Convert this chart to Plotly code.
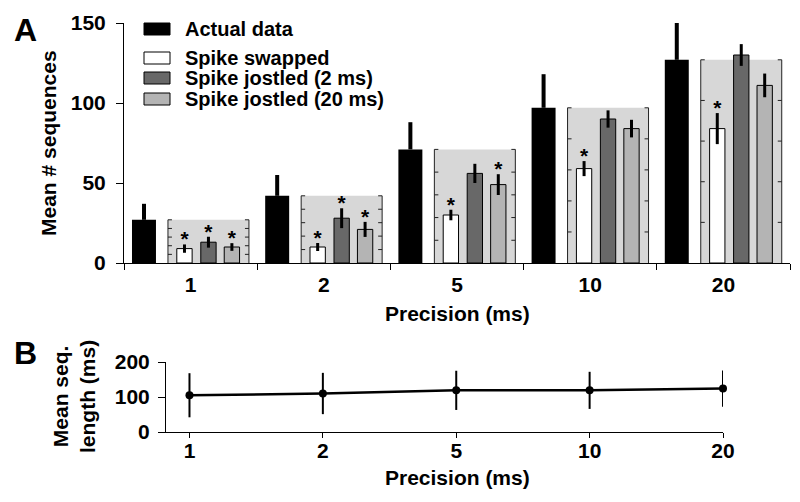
import numpy as np
import plotly.graph_objects as go

# values
precision = ['1', '2', '5', '10', '20']
actual = [27, 42, 71, 97, 127]
actual_err = [10, 13, 17, 21, 25]
swapped = [9, 10, 30, 59, 84]
swapped_err = [2.6, 2.5, 3.3, 4.7, 9.7]
jostled_2 = [13, 28, 56, 90, 130]
jostled_2_err = [3.4, 6.2, 6.0, 5.4, 6.8]
jostled_20 = [10, 21, 49, 84, 111]
jostled_20_err = [2.4, 4.7, 6.5, 5.5, 7.4]
# significance stars (1 = starred)
swapped_sig = [1, 1, 1, 1, 1]
jostled_2_sig = [1, 1, 0, 0, 0]
jostled_20_sig = [1, 1, 1, 0, 0]
seq_len = [105, 110, 119, 119, 124]
seq_len_err = [63, 59, 56, 53, 52]

names = ['Actual data', 'Spike swapped', 'Spike jostled (2 ms)', 'Spike jostled (20 ms)']
colors = ['black', 'white', '#686868', '#b4b4b4']

FONT = 'Liberation Sans, Arial, sans-serif'
# the page body has an 8px margin, so the figure is drawn 8px in from the corner
OFF = 8
W, H = 800 - OFF, 502 - OFF
idx = np.arange(len(precision))

def px(x):
    return (x - OFF) / W

def py(y):
    return 1 - (y - OFF) / H

fig = go.Figure()

# grey inset box behind the three control bars, height = actual data
box_c, box_w = 0.134, 0.608
fig.add_trace(go.Bar(x=idx + box_c, y=actual, width=box_w,
                     marker=dict(color='#d7d7d7', line=dict(width=0)),
                     showlegend=False, hoverinfo='skip'))

# box side edges with inward ticks at 20% steps
ex, ey = [], []
tk = 0.03
for i, a in enumerate(actual):
    l = i + box_c - box_w / 2
    r = i + box_c + box_w / 2
    ex += [l, l, None, r, r, None]
    ey += [0, a, None, 0, a, None]
    for k in range(1, 6):
        y = a * k / 5
        ex += [l, l + tk, None, r - tk, r, None]
        ey += [y, y, None, y, y, None]
fig.add_trace(go.Scatter(x=ex, y=ey, mode='lines', line=dict(color='#222', width=1),
                         showlegend=False, hoverinfo='skip'))

# actual data bars, error bar upward only
fig.add_trace(go.Bar(x=idx - 0.35, y=actual, width=0.18, name=names[0],
                     marker=dict(color='black', line=dict(width=0)),
                     error_y=dict(type='data', array=actual_err, arrayminus=[0] * 5,
                                  symmetric=False, thickness=4, width=0, color='black')))

inner = [
    (swapped, swapped_err, swapped_sig, -0.046, colors[1], names[1]),
    (jostled_2, jostled_2_err, jostled_2_sig, 0.134, colors[2], names[2]),
    (jostled_20, jostled_20_err, jostled_20_sig, 0.310, colors[3], names[3]),
]
for vals, err, sig, off, col, nm in inner:
    fig.add_trace(go.Bar(x=idx + off, y=vals, width=0.115, name=nm,
                         marker=dict(color=col, line=dict(color='black', width=1)),
                         error_y=dict(type='data', array=err, thickness=3, width=0, color='black')))
    sx = [i + off for i in idx if sig[i]]
    sy = [vals[i] + err[i] + 2 for i in idx if sig[i]]
    fig.add_trace(go.Scatter(x=sx, y=sy, mode='text', text=['*'] * len(sx),
                             textposition='middle center',
                             textfont=dict(family=FONT, size=21, color='black', weight='bold'),
                             showlegend=False, hoverinfo='skip'))

# panel B
fig.add_trace(go.Scatter(x=idx, y=seq_len, mode='lines+markers', xaxis='x2', yaxis='y2',
                         line=dict(color='black', width=2.5),
                         marker=dict(color='black', size=8),
                         error_y=dict(type='data', array=seq_len_err, thickness=2, width=0, color='black'),
                         cliponaxis=False, showlegend=False))

tickfont = dict(family=FONT, size=21, color='black', weight='bold')
fig.update_layout(
    width=W, height=H,
    margin=dict(l=0, r=0, t=0, b=0, autoexpand=False),
    paper_bgcolor='white', plot_bgcolor='white',
    barmode='overlay', showlegend=False,
    font=dict(family=FONT, color='black'),
    xaxis=dict(domain=[px(124), px(790)], range=[-0.5, 4.5], automargin=False,
               tickvals=list(idx), ticktext=precision, ticks='', tickfont=tickfont,
               showline=True, linecolor='black', linewidth=1, showgrid=False, zeroline=False,
               ticklabelstandoff=3,
               minor=dict(tickvals=[-0.5, 0.5, 1.5, 2.5, 3.5, 4.5], ticks='outside',
                          ticklen=6, tickwidth=1, tickcolor='black', showgrid=False)),
    yaxis=dict(domain=[py(263), py(23)], range=[0, 150], tickvals=[0, 50, 100, 150],
               automargin=False,
               ticks='outside', ticklen=7, tickwidth=1, tickcolor='black', tickfont=tickfont,
               showline=True, linecolor='black', linewidth=1, showgrid=False, zeroline=False,
               ticklabelstandoff=6),
    xaxis2=dict(domain=[px(166), px(723)], range=[-0.176, 4.0], anchor='y2', automargin=False,
                tickvals=list(idx), ticktext=precision, ticks='outside', ticklen=5,
                tickwidth=1, tickcolor='black', tickfont=tickfont,
                showline=True, linecolor='black', linewidth=1, showgrid=False, zeroline=False,
                ticklabelstandoff=-5),
    yaxis2=dict(domain=[py(432), py(362)], range=[0, 200], tickvals=[0, 100, 200], anchor='x2',
                automargin=False,
                ticks='outside', ticklen=7, tickwidth=1, tickcolor='black', tickfont=tickfont,
                showline=True, linecolor='black', linewidth=1, showgrid=False, zeroline=False,
                ticklabelstandoff=4),
)

ann = [
    dict(text='A', x=px(12), y=py(30), xanchor='left', size=32),
    dict(text='B', x=px(12), y=py(353), xanchor='left', size=32),
    dict(text='Mean # sequences', x=px(48), y=py(143), xanchor='center', size=21, angle=-90),
    dict(text='Precision (ms)', x=px(457), y=py(313), xanchor='center', size=21),
    dict(text='Precision (ms)', x=px(457), y=py(477), xanchor='center', size=21),
    dict(text='Mean seq.<br>length (ms)', x=px(74), y=py(397), xanchor='center', size=21, angle=-90),
]
for a in ann:
    fig.add_annotation(text=a['text'], x=a['x'], y=a['y'], xref='paper', yref='paper',
                       xanchor=a['xanchor'], yanchor='middle', showarrow=False,
                       textangle=a.get('angle', 0),
                       font=dict(family=FONT, size=a['size'], color='black', weight='bold'))

# hand-drawn legend in the top-left of panel A
leg_y = [29, 58, 78, 99]
for nm, col, yy in zip(names, colors, leg_y):
    fig.add_shape(type='rect', xref='paper', yref='paper',
                  x0=px(144), x1=px(170), y0=py(yy + 6), y1=py(yy - 6),
                  fillcolor=col, line=dict(color='black', width=1))
    fig.add_annotation(text=nm, x=px(183), y=py(yy), xref='paper', yref='paper',
                       xanchor='left', yanchor='middle', showarrow=False,
                       font=dict(family=FONT, size=20, color='black', weight='bold'))

fig.write_html("out.html")
